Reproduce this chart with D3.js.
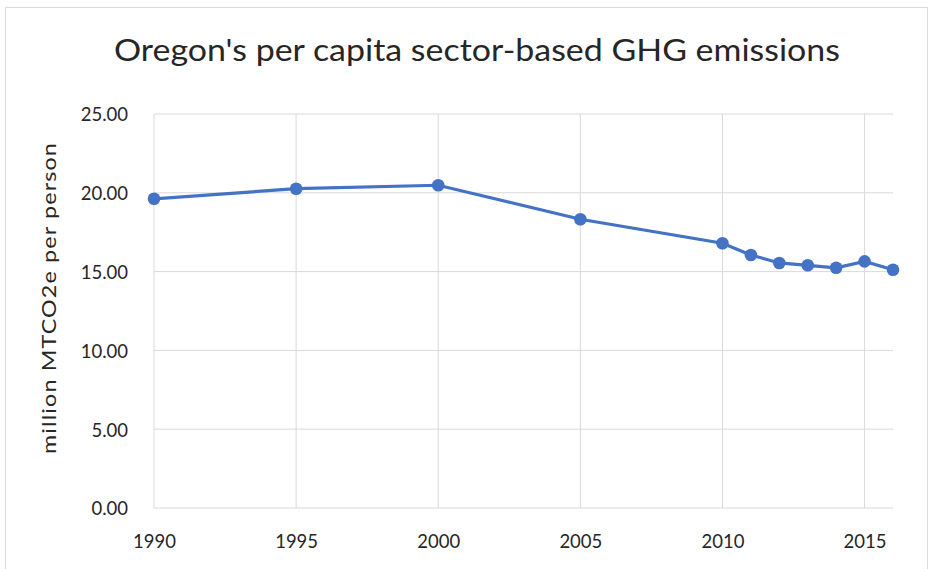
<!DOCTYPE html>
<html>
<head>
<meta charset="utf-8">
<script src="https://cdn.jsdelivr.net/npm/d3@7"></script>
<style>
  body { margin: 0; background: #fff; }
  text { font-family: Lato, "Open Sans", sans-serif; fill: #262626; }
</style>
</head>
<body>
<div id="chart"></div>
<script>
var years = [1990, 1995, 2000, 2005, 2010, 2011, 2012, 2013, 2014, 2015, 2016];
var emissions = [19.62, 20.26, 20.48, 18.32, 16.8, 16.05, 15.55, 15.4, 15.24, 15.65, 15.12];
var xTicks = [1990, 1995, 2000, 2005, 2010, 2015];
var yTicks = [0, 5, 10, 15, 20, 25];

var width = 930, height = 569;
var margin = {top: 114, right: 37, bottom: 61, left: 154};

var svg = d3.select("#chart")
    .append("svg")
    .attr("width", width)
    .attr("height", height);

// outer frame
svg.append("rect")
    .attr("x", 5.5).attr("y", 7.5)
    .attr("width", 922).attr("height", 570)
    .style("fill", "none")
    .style("stroke", "#d9d9d9");

var x = d3.scaleLinear()
    .domain([1990, 2016])
    .range([margin.left, width - margin.right]);

var y = d3.scaleLinear()
    .domain([0, 25])
    .range([height - margin.bottom, margin.top]);

// horizontal grid
svg.append("g")
    .selectAll("line")
    .data(yTicks)
    .enter()
    .append("line")
    .attr("x1", x(1990)).attr("x2", x(2016))
    .attr("y1", d => y(d)).attr("y2", d => y(d))
    .style("stroke", "#d9d9d9")
    .style("stroke-width", 1);

// vertical grid
svg.append("g")
    .selectAll("line")
    .data(xTicks)
    .enter()
    .append("line")
    .attr("x1", d => x(d)).attr("x2", d => x(d))
    .attr("y1", y(0)).attr("y2", y(25))
    .style("stroke", "#d9d9d9")
    .style("stroke-width", 1);

// y axis labels
var yAxis = svg.append("g")
    .attr("transform", "translate(" + (margin.left - 23) + ",1)")
    .call(d3.axisLeft(y).tickValues(yTicks).tickFormat(d3.format(".2f")).tickSize(0));
yAxis.select(".domain").remove();
yAxis.selectAll("text").style("font-size", "18.5px").style("fill", "#262626");

// x axis labels
var xAxis = svg.append("g")
    .attr("transform", "translate(0," + (y(0) + 24) + ")")
    .call(d3.axisBottom(x).tickValues(xTicks).tickFormat(d3.format("d")).tickSize(0));
xAxis.select(".domain").remove();
xAxis.selectAll("text").style("font-size", "18.5px").style("fill", "#262626");

// title
svg.append("text")
    .attr("x", 477)
    .attr("y", 61)
    .attr("text-anchor", "middle")
    .attr("textLength", 726)
    .attr("lengthAdjust", "spacingAndGlyphs")
    .style("font-size", "30px")
    .text("Oregon's per capita sector-based GHG emissions");

// y axis title
svg.append("text")
    .attr("transform", "translate(56," + 298 + ") rotate(-90)")
    .attr("text-anchor", "middle")
    .attr("textLength", 312)
    .attr("lengthAdjust", "spacingAndGlyphs")
    .style("font-size", "20px")
    .style("letter-spacing", "1px")
    .text("million MTCO2e per person");

var pts = years.map((d, i) => [d, emissions[i]]);

svg.append("path")
    .datum(pts)
    .style("fill", "none")
    .style("stroke", "#4472c4")
    .style("stroke-width", 3.2)
    .attr("d", d3.line().x(d => x(d[0])).y(d => y(d[1])));

svg.append("g")
    .selectAll("circle")
    .data(pts)
    .enter()
    .append("circle")
    .attr("cx", d => x(d[0]))
    .attr("cy", d => y(d[1]))
    .attr("r", 6.3)
    .style("fill", "#4472c4");
</script>
</body>
</html>
